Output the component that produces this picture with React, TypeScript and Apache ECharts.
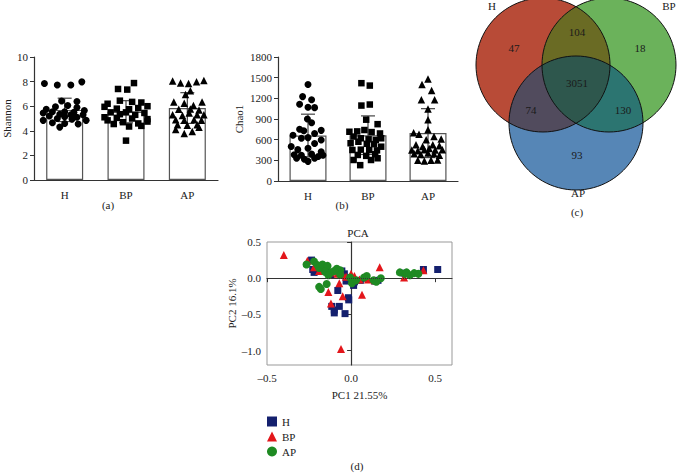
import React, { useEffect, useRef } from 'react';
import * as echarts from 'echarts';

const SERIF = 'Liberation Serif, Times New Roman, serif';

const groups = ['H', 'BP', 'AP'];

// Shannon (panel a)
const shannonMean = [5.7, 5.55, 5.85];
const shannonSD = [0.95, 0.9, 1.25];
const shannonH = [[-0.33,7.85],[-0.12,7.72],[0.1,7.72],[0.28,7.98],[-0.05,6.42],[0.2,6.38],[0.05,6.05],[-0.15,5.95],[0.2,5.9],[-0.3,5.75],[0.32,5.65],[-0.2,5.55],[0.0,5.55],[0.15,5.5],[-0.35,5.45],[-0.08,5.35],[0.1,5.3],[0.3,5.3],[-0.25,5.2],[0.0,5.15],[0.2,5.1],[-0.12,5.0],[0.12,4.95],[-0.35,4.85],[0.35,4.85],[-0.2,4.65],[0.0,4.6],[0.22,4.55],[-0.08,4.3]];
const shannonBP = [[-0.13,7.4],[0.02,7.35],[0.13,7.88],[-0.3,6.2],[-0.1,6.45],[0.1,6.35],[0.25,6.3],[0.35,6.0],[-0.35,5.95],[-0.15,5.8],[0.05,5.75],[0.2,5.85],[-0.25,5.5],[0.0,5.5],[0.3,5.45],[-0.1,5.35],[0.15,5.3],[-0.35,5.1],[-0.15,5.05],[0.1,5.0],[0.35,4.95],[-0.3,4.85],[-0.05,4.7],[0.2,4.6],[0.35,4.75],[-0.2,4.55],[0.05,4.35],[0.25,4.4],[0.0,3.2]];
const shannonAP = [[-0.24,8.05],[-0.11,7.88],[0.02,7.85],[0.15,7.98],[0.27,8.08],[0.05,7.25],[-0.03,6.95],[-0.22,6.35],[-0.05,6.25],[0.1,6.05],[0.24,6.35],[-0.14,5.75],[0.05,5.78],[0.19,5.7],[-0.24,5.3],[-0.08,5.25],[0.03,5.45],[0.16,5.3],[0.27,5.3],[-0.19,4.9],[-0.05,4.85],[0.11,4.9],[0.23,4.85],[-0.16,4.5],[0.0,4.45],[0.16,4.5],[-0.19,4.1],[-0.05,3.78],[0.08,3.95],[0.19,4.28]];

// Chao1 (panel b)
const chaoMean = [660, 665, 695];
const chaoSD = [310, 280, 355];
const chaoH = [[0,1400],[-0.09,1225],[0.06,1180],[-0.14,1115],[0,1070],[0.11,1065],[-0.01,900],[0.06,845],[-0.14,750],[-0.07,730],[0.22,735],[0.11,690],[-0.25,665],[-0.11,620],[0,630],[0.22,595],[0.11,545],[-0.28,500],[-0.17,455],[0,475],[0.22,425],[-0.23,380],[-0.11,375],[0.06,390],[0.17,355],[0.25,375],[-0.19,330],[-0.06,315],[0.11,330],[0,285]];
const chaoBP = [[-0.11,1420],[0.03,1385],[-0.11,1095],[0.03,1110],[-0.03,890],[0.16,825],[-0.31,715],[-0.18,720],[-0.06,740],[0.06,710],[0.2,690],[-0.24,645],[-0.12,620],[0.01,605],[0.13,595],[0.22,620],[-0.29,548],[-0.16,570],[-0.02,540],[0.1,535],[0.22,498],[-0.26,450],[-0.12,455],[0.02,450],[0.15,445],[-0.17,378],[-0.03,365],[0.12,388],[-0.24,305],[0.05,305],[-0.13,230],[0.16,330]];
const chaoAP = [[0,1480],[-0.1,1400],[0.06,1315],[-0.11,1180],[0.11,1180],[0,1045],[0,890],[0,745],[-0.24,700],[-0.15,680],[-0.03,600],[0.1,645],[0.22,610],[-0.2,525],[-0.09,500],[0.08,525],[0.19,510],[-0.27,450],[-0.17,440],[-0.06,455],[0.02,470],[0.12,450],[0.24,455],[-0.23,395],[-0.12,385],[0,405],[0.1,395],[0.19,375],[-0.17,300],[-0.06,290],[0.05,300],[0.16,305]];

// Venn (panel c)
const vennSets = ['H', 'BP', 'AP'];
const vennOnly = [47, 18, 93];
const vennHBP = 104;
const vennHAP = 74;
const vennBPAP = 130;
const vennAll = 3051;

// PCA (panel d)
const pcaH = [[-0.235,0.25],[-0.228,0.12],[-0.22,0.08],[-0.145,0.09],[-0.12,0.05],[-0.055,0.1],[-0.04,0.06],[-0.03,-0.04],[-0.01,-0.03],[0.015,-0.1],[0.02,-0.05],[0.055,-0.03],[0.09,0.0],[0.14,-0.04],[0.16,-0.03],[-0.079,-0.17],[-0.016,-0.27],[-0.014,-0.30],[-0.115,-0.39],[-0.1,-0.44],[-0.1,-0.48],[-0.07,-0.39],[-0.036,-0.49],[0.315,0.07],[0.43,0.12],[0.515,0.12]];
const pcaBP = [[-0.40,0.32],[-0.26,0.24],[-0.22,0.15],[-0.19,0.10],[-0.17,0.12],[-0.12,0.08],[-0.08,0.06],[-0.05,0.05],[0.0,0.06],[0.02,0.03],[-0.07,-0.07],[-0.135,-0.19],[-0.05,-0.25],[-0.12,-0.35],[0.065,-0.23],[-0.06,-0.98],[0.17,0.15],[0.14,-0.03],[0.1,-0.02],[0.315,0.01],[0.43,0.11],[-0.03,0.02],[0.05,-0.02]];
const pcaAP = [[-0.265,0.19],[-0.22,0.23],[-0.2,0.18],[-0.19,0.14],[-0.17,0.19],[-0.14,0.17],[-0.155,0.09],[-0.12,0.08],[-0.085,0.13],[-0.065,0.11],[-0.135,0.04],[-0.065,0.05],[-0.145,-0.08],[-0.19,-0.12],[-0.18,-0.15],[-0.006,0.01],[0.005,-0.07],[0.03,-0.03],[0.077,0.01],[0.093,0.03],[0.133,-0.03],[0.15,-0.05],[0.177,0.0],[0.29,0.08],[0.32,0.06],[0.35,0.04],[0.375,0.07],[0.4,0.06],[0.33,0.08],[-0.1,0.1]];
const pcaXTicks = [-0.5, 0, 0.5];
const pcaYTicks = [-1, -0.5, 0, 0.5];

type Circle = { cx: number; cy: number; r: number };

function regionPoints(circles: Circle[], idx: number[]): number[][] {
  const pts: number[][] = [];
  const N = 1440;
  idx.forEach((i) => {
    const c = circles[i];
    for (let k = 0; k < N; k++) {
      const a = (k / N) * Math.PI * 2;
      const x = c.cx + c.r * Math.cos(a);
      const y = c.cy + c.r * Math.sin(a);
      let ok = true;
      idx.forEach((j) => {
        if (j === i) return;
        const d = Math.hypot(x - circles[j].cx, y - circles[j].cy);
        if (d > circles[j].r + 1e-6) ok = false;
      });
      if (ok) pts.push([x, y]);
    }
  });
  const mx = pts.reduce((s, p) => s + p[0], 0) / pts.length;
  const my = pts.reduce((s, p) => s + p[1], 0) / pts.length;
  pts.sort((p, q) => Math.atan2(p[1] - my, p[0] - mx) - Math.atan2(q[1] - my, q[0] - mx));
  return pts;
}

const fmtTick = (v: number) => {
  const s = Math.abs(v).toFixed(1);
  return v < 0 ? '\u2013' + s : s;
};

export default function App() {
  const ref = useRef<HTMLDivElement>(null);
  useEffect(() => {
    if (!ref.current) return;
    const chart = echarts.init(ref.current, null, { renderer: 'svg' });

    const labelStyle = { fontFamily: SERIF, fontSize: 11, color: '#222' };
    const axisLineStyle = { lineStyle: { color: '#333', width: 1.2 } };

    const errorSeries = (xi: number, yi: number, mean: number[], sd: number[]) => ({
      type: 'custom',
      xAxisIndex: xi,
      yAxisIndex: yi,
      z: 3,
      encode: { x: 0, y: 1 },
      data: groups.map((g, i) => [i, mean[i], sd[i]]),
      renderItem: (params: any, api: any) => {
        const i = api.value(0);
        const m = api.value(1);
        const s = api.value(2);
        const top = api.coord([i, m + s]);
        const bot = api.coord([i, m - s]);
        const hw = 7;
        const st = { stroke: '#444', lineWidth: 1.2 };
        return {
          type: 'group',
          children: [
            { type: 'line', shape: { x1: top[0], y1: top[1], x2: bot[0], y2: bot[1] }, style: st },
            { type: 'line', shape: { x1: top[0] - hw, y1: top[1], x2: top[0] + hw, y2: top[1] }, style: st },
            { type: 'line', shape: { x1: bot[0] - hw, y1: bot[1], x2: bot[0] + hw, y2: bot[1] }, style: st },
          ],
        };
      },
    });

    const dots = (name: string, xi: number, yi: number, gi: number, pts: number[][], symbol: string, size: number) => ({
      name,
      type: 'scatter',
      xAxisIndex: xi,
      yAxisIndex: yi,
      symbol,
      symbolSize: size,
      z: 4,
      itemStyle: { color: '#000', opacity: 1 },
      data: pts.map((p) => [gi + 0.5 + p[0], p[1]]),
    });

    // Venn geometry
    const circles: Circle[] = [
      { cx: 543, cy: 65, r: 67 },
      { cx: 609, cy: 65, r: 67 },
      { cx: 576, cy: 123, r: 67 },
    ];
    const vennFill = ['#B84B37', '#6BB25B', '#5686B6'];
    const venn: any[] = [];
    circles.forEach((c, i) => {
      venn.push({ type: 'circle', shape: { cx: c.cx, cy: c.cy, r: c.r }, style: { fill: vennFill[i] }, z: 1 });
    });
    const pairs: [number[], string][] = [
      [[0, 1], '#6A6B24'],
      [[0, 2], '#514B5D'],
      [[1, 2], '#2C7571'],
      [[0, 1, 2], '#2E574D'],
    ];
    pairs.forEach(([idx, col]) => {
      venn.push({ type: 'polygon', shape: { points: regionPoints(circles, idx) }, style: { fill: col }, z: 2 });
    });
    circles.forEach((c) => {
      venn.push({ type: 'circle', shape: { cx: c.cx, cy: c.cy, r: c.r }, style: { fill: 'none', stroke: '#111', lineWidth: 1 }, z: 3 });
    });
    const txt = (text: string, x: number, y: number, size = 11) => ({
      type: 'text',
      x,
      y,
      z: 5,
      style: { text, align: 'center', verticalAlign: 'middle', fontSize: size, fontFamily: SERIF, fill: '#1a1a1a' },
    });
    venn.push(txt(vennSets[0], 492, 6));
    venn.push(txt(vennSets[1], 669, 6));
    venn.push(txt(vennSets[2], 578, 193));
    venn.push(txt(String(vennOnly[0]), 514, 48));
    venn.push(txt(String(vennOnly[1]), 640, 48));
    venn.push(txt(String(vennOnly[2]), 577, 155));
    venn.push(txt(String(vennHBP), 577, 32));
    venn.push(txt(String(vennHAP), 531, 110));
    venn.push(txt(String(vennBPAP), 623, 110));
    venn.push(txt(String(vennAll), 577, 83));
    venn.push(txt('(a)', 108, 205));
    venn.push(txt('(b)', 342, 205));
    venn.push(txt('(c)', 577, 212));
    venn.push(txt('(d)', 357, 466));
    venn.push(txt('PCA', 358, 233));

    const option: any = {
      animation: false,
      backgroundColor: '#fff',
      textStyle: { fontFamily: SERIF },
      grid: [
        { left: 34, top: 57, width: 184, height: 123 },
        { left: 278, top: 57, width: 180, height: 124 },
        { left: 267, top: 242, width: 185, height: 123, show: true, borderColor: '#999', borderWidth: 1, backgroundColor: 'transparent' },
      ],
      xAxis: [
        { type: 'category', gridIndex: 0, data: groups, axisLine: axisLineStyle, axisTick: { show: false }, axisLabel: { ...labelStyle, margin: 9 } },
        { type: 'value', gridIndex: 0, min: 0, max: 3, show: false },
        { type: 'category', gridIndex: 1, data: groups, axisLine: axisLineStyle, axisTick: { show: false }, axisLabel: { ...labelStyle, margin: 9 } },
        { type: 'value', gridIndex: 1, min: 0, max: 3, show: false },
        {
          type: 'value', gridIndex: 2, min: -0.5, max: 0.6,
          axisLine: { show: true, lineStyle: { color: '#333', width: 1.2 } },
          axisTick: { show: true, length: 4, customValues: pcaXTicks, lineStyle: { color: '#333' } },
          axisLabel: { ...labelStyle, customValues: pcaXTicks, formatter: fmtTick, margin: 7 },
          splitLine: { show: false },
          name: 'PC1 21.55%', nameLocation: 'middle', nameGap: 24,
          nameTextStyle: labelStyle,
        },
      ],
      yAxis: [
        {
          type: 'value', gridIndex: 0, min: 0, max: 10, interval: 2,
          axisLine: { show: true, ...axisLineStyle }, axisTick: { show: true, length: 4, lineStyle: { color: '#333' } },
          axisLabel: { ...labelStyle, margin: 6 }, splitLine: { show: false },
          name: 'Shannon', nameLocation: 'middle', nameGap: 22, nameTextStyle: labelStyle,
        },
        {
          type: 'value', gridIndex: 1, min: 0, max: 1800, interval: 300,
          axisLine: { show: true, ...axisLineStyle }, axisTick: { show: true, length: 4, lineStyle: { color: '#333' } },
          axisLabel: { ...labelStyle, margin: 6, formatter: (v: number) => String(v) }, splitLine: { show: false },
          name: 'Chao1', nameLocation: 'middle', nameGap: 34, nameTextStyle: labelStyle,
        },
        {
          type: 'value', gridIndex: 2, min: -1.2, max: 0.5,
          axisLine: { show: true, ...axisLineStyle },
          axisTick: { show: true, length: 4, customValues: pcaYTicks, lineStyle: { color: '#333' } },
          axisLabel: { ...labelStyle, customValues: pcaYTicks, formatter: fmtTick, margin: 6 },
          splitLine: { show: false },
          name: 'PC2 16.1%', nameLocation: 'middle', nameGap: 30, nameTextStyle: labelStyle,
        },
      ],
      legend: {
        orient: 'vertical', left: 262, top: 411, itemWidth: 10, itemHeight: 10, itemGap: 4,
        textStyle: { fontFamily: SERIF, fontSize: 11, color: '#222' },
        data: ['H', 'BP', 'AP'],
      },
      series: [
        { type: 'bar', xAxisIndex: 0, yAxisIndex: 0, barWidth: 37, z: 2, data: shannonMean, itemStyle: { color: '#fff', borderColor: '#555', borderWidth: 1.2 } },
        errorSeries(0, 0, shannonMean, shannonSD),
        dots('sH', 1, 0, 0, shannonH, 'circle', 7),
        dots('sBP', 1, 0, 1, shannonBP, 'rect', 6.5),
        dots('sAP', 1, 0, 2, shannonAP, 'triangle', 7.5),
        { type: 'bar', xAxisIndex: 2, yAxisIndex: 1, barWidth: 37, z: 2, data: chaoMean, itemStyle: { color: '#fff', borderColor: '#555', borderWidth: 1.2 } },
        errorSeries(2, 1, chaoMean, chaoSD),
        dots('cH', 3, 1, 0, chaoH, 'circle', 7),
        dots('cBP', 3, 1, 1, chaoBP, 'rect', 6.5),
        dots('cAP', 3, 1, 2, chaoAP, 'triangle', 7.5),
        {
          name: 'H', type: 'scatter', xAxisIndex: 4, yAxisIndex: 2, symbol: 'rect', symbolSize: 7,
          itemStyle: { color: '#14206E', opacity: 1 }, data: pcaH,
          markLine: {
            silent: true, symbol: 'none', label: { show: false },
            lineStyle: { color: '#333', type: 'dotted', width: 1 },
            data: [{ yAxis: 0 }],
          },
        },
        { name: 'BP', type: 'scatter', xAxisIndex: 4, yAxisIndex: 2, symbol: 'triangle', symbolSize: 8, itemStyle: { color: '#E3161B', opacity: 1 }, data: pcaBP },
        { name: 'AP', type: 'scatter', xAxisIndex: 4, yAxisIndex: 2, symbol: 'circle', symbolSize: 8, itemStyle: { color: '#1E8A22', opacity: 1 }, data: pcaAP },
      ],
      graphic: venn,
    };
    chart.setOption(option);
    return () => chart.dispose();
  }, []);
  return (
    <div
      ref={ref}
      style={{ position: 'fixed', left: 0, top: 0, width: 677, height: 473, background: '#fff' }}
    />
  );
}
